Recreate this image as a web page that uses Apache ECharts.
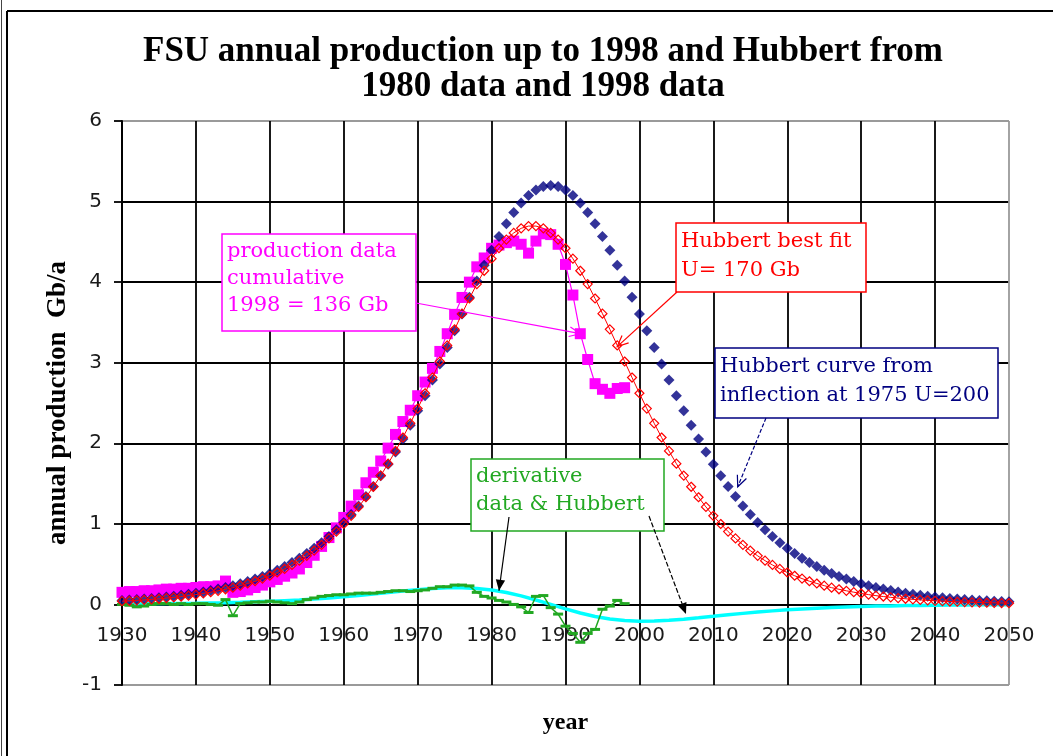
<!DOCTYPE html>
<html>
<head>
<meta charset="utf-8">
<title>FSU annual production and Hubbert curves</title>
<script src="https://cdn.jsdelivr.net/npm/echarts@6/dist/echarts.min.js"></script>
<style>
  html, body { margin: 0; padding: 0; background: #fff; }
  #chart { width: 1053px; height: 756px; }
</style>
</head>
<body>
<div id="chart"></div>
<script>
// ---- data (Gb per year) ----
const PROD_FIRST_YEAR = 1930;   // production data and its derivative: 1930..1998, yearly
const CURVE_FIRST_YEAR = 1930;  // Hubbert curves: 1930..2050, yearly
const DERIV_CURVE_FIRST_YEAR = 1930; // derivative of the Hubbert curve: every 2 years
const DERIV_CURVE_STEP = 2;

const production = [
  0.15, 0.16, 0.16, 0.17, 0.17, 0.18, 0.19, 0.19, 0.20, 0.20,
  0.21, 0.22, 0.22, 0.23, 0.29, 0.15, 0.16, 0.18, 0.21, 0.24,
  0.28, 0.31, 0.35, 0.39, 0.44, 0.52, 0.61, 0.72, 0.83, 0.95,
  1.08, 1.22, 1.36, 1.51, 1.64, 1.78, 1.94, 2.11, 2.27, 2.41,
  2.59, 2.76, 2.93, 3.14, 3.36, 3.60, 3.81, 4.00, 4.19, 4.30,
  4.42, 4.46, 4.49, 4.51, 4.47, 4.36, 4.51, 4.60, 4.59, 4.47,
  4.22, 3.84, 3.36, 3.04, 2.74, 2.67, 2.62, 2.68, 2.69
];

const productionDerivative = [
  0.00, -0.01, -0.03, -0.02, 0.00, 0.01, 0.01, 0.00, 0.01, 0.00,
  0.01, 0.01, 0.00, -0.01, 0.06, -0.14, 0.01, 0.02, 0.03, 0.03,
  0.04, 0.03, 0.02, 0.01, 0.03, 0.06, 0.08, 0.10, 0.11, 0.12,
  0.12, 0.13, 0.14, 0.14, 0.14, 0.15, 0.16, 0.17, 0.17, 0.16,
  0.17, 0.18, 0.20, 0.22, 0.22, 0.24, 0.24, 0.23, 0.15, 0.10,
  0.08, 0.05, 0.03, 0.00, -0.03, -0.10, 0.10, 0.11, -0.04, -0.12,
  -0.27, -0.36, -0.47, -0.36, -0.31, -0.06, -0.02, 0.05, 0.01
];

// Hubbert curve from the 1975 inflection, U = 200 Gb
const hubbert200 = [
  0.050, 0.055, 0.061, 0.068, 0.075, 0.084, 0.093, 0.103, 0.114, 0.126,
  0.140, 0.155, 0.172, 0.190, 0.210, 0.232, 0.258, 0.285, 0.315, 0.348,
  0.384, 0.425, 0.470, 0.519, 0.572, 0.631, 0.696, 0.766, 0.843, 0.926,
  1.018, 1.116, 1.223, 1.339, 1.463, 1.596, 1.740, 1.892, 2.053, 2.224,
  2.403, 2.591, 2.785, 2.985, 3.189, 3.397, 3.605, 3.811, 4.013, 4.209,
  4.395, 4.568, 4.725, 4.864, 4.981, 5.075, 5.144, 5.186, 5.200, 5.186,
  5.144, 5.075, 4.981, 4.864, 4.725, 4.568, 4.395, 4.209, 4.013, 3.811,
  3.605, 3.397, 3.189, 2.985, 2.785, 2.591, 2.403, 2.224, 2.053, 1.892,
  1.740, 1.596, 1.463, 1.339, 1.223, 1.116, 1.018, 0.926, 0.843, 0.766,
  0.696, 0.631, 0.572, 0.519, 0.470, 0.425, 0.384, 0.348, 0.315, 0.285,
  0.258, 0.232, 0.210, 0.190, 0.172, 0.155, 0.140, 0.126, 0.114, 0.103,
  0.093, 0.084, 0.075, 0.068, 0.061, 0.055, 0.050, 0.045, 0.041, 0.037,
  0.033
];

// Hubbert best fit, U = 170 Gb
const hubbert170 = [
  0.041, 0.045, 0.051, 0.056, 0.063, 0.070, 0.079, 0.088, 0.098, 0.109,
  0.122, 0.136, 0.152, 0.169, 0.188, 0.208, 0.233, 0.260, 0.288, 0.321,
  0.356, 0.396, 0.441, 0.490, 0.543, 0.603, 0.668, 0.740, 0.819, 0.904,
  0.998, 1.100, 1.210, 1.330, 1.460, 1.599, 1.747, 1.905, 2.072, 2.248,
  2.431, 2.621, 2.816, 3.015, 3.215, 3.414, 3.609, 3.797, 3.976, 4.141,
  4.291, 4.421, 4.528, 4.611, 4.668, 4.696, 4.696, 4.668, 4.611, 4.528,
  4.421, 4.291, 4.141, 3.976, 3.797, 3.609, 3.414, 3.215, 3.015, 2.816,
  2.621, 2.431, 2.248, 2.072, 1.905, 1.747, 1.599, 1.460, 1.330, 1.210,
  1.100, 0.998, 0.904, 0.819, 0.740, 0.668, 0.603, 0.543, 0.490, 0.441,
  0.396, 0.356, 0.321, 0.288, 0.260, 0.233, 0.208, 0.188, 0.169, 0.152,
  0.136, 0.122, 0.109, 0.098, 0.088, 0.079, 0.070, 0.063, 0.056, 0.051,
  0.045, 0.041, 0.036, 0.033, 0.029, 0.026, 0.023, 0.021, 0.019, 0.017,
  0.015
];

// derivative of the U = 200 Hubbert curve
const hubbertDerivative = [
  0.005, 0.006, 0.008, 0.010, 0.012, 0.014, 0.018, 0.021, 0.026, 0.032,
  0.038, 0.047, 0.056, 0.067, 0.080, 0.095, 0.111, 0.129, 0.148, 0.166,
  0.183, 0.197, 0.206, 0.208, 0.199, 0.180, 0.149, 0.106, 0.055, 0.000,
  -0.055, -0.106, -0.149, -0.180, -0.199, -0.208, -0.206, -0.197, -0.183, -0.166,
  -0.148, -0.129, -0.111, -0.095, -0.080, -0.067, -0.056, -0.047, -0.038, -0.032,
  -0.026, -0.021, -0.018, -0.014, -0.012, -0.010, -0.008, -0.006, -0.005, -0.004,
  -0.003
];

// axis ticks
const xTicks = { min: 1930, max: 2050, step: 10 };
const yTicks = { min: -1, max: 6, step: 1 };

// ---- helpers ----
function pairs(firstYear, step, values) {
  return values.map((v, i) => [firstYear + i * step, v]);
}
// one colour per grid line: inner lines in one colour, the two outer lines in others
function lineColors(count, inner, edgeMin, edgeMax) {
  const c = [];
  for (let i = 0; i < count; i++) c.push(inner);
  c[0] = edgeMin;
  c[count - 1] = edgeMax;
  return c;
}

const GRID_BLACK = '#000';
const GRID_GREY = '#9a9a9a';
const nX = (xTicks.max - xTicks.min) / xTicks.step + 1;
const nY = (yTicks.max - yTicks.min) / yTicks.step + 1;

const chart = echarts.init(document.getElementById('chart'), null, { renderer: 'canvas' });

const option = {
  backgroundColor: '#fff',
  animation: false,
  title: {
    text: 'FSU annual production up to 1998 and Hubbert from\n1980 data and 1998 data',
    left: 538,
    top: 29,
    textAlign: 'center',
    textStyle: {
      fontFamily: '"Liberation Serif", "Times New Roman", serif',
      fontWeight: 'bold',
      fontSize: 35,
      lineHeight: 35,
      color: '#000'
    }
  },
  grid: { left: 122, right: 44, top: 121, bottom: 71, outerBoundsMode: 'none' },
  xAxis: {
    type: 'value',
    min: xTicks.min,
    max: xTicks.max,
    interval: xTicks.step,
    name: 'year',
    nameLocation: 'middle',
    nameGap: 26,
    nameTextStyle: {
      fontFamily: '"Liberation Serif", "Times New Roman", serif',
      fontWeight: 'bold',
      fontSize: 24,
      color: '#000'
    },
    axisLine: { show: false, onZero: false },
    axisTick: { show: false },
    axisLabel: {
      margin: -59,
      fontFamily: '"DejaVu Sans", sans-serif',
      fontSize: 20,
      color: '#1a1a1a',
      formatter: v => String(v)
    },
    splitLine: {
      show: true,
      lineStyle: { color: lineColors(nX, GRID_BLACK, GRID_BLACK, GRID_GREY), width: 1.8 }
    }
  },
  yAxis: {
    type: 'value',
    min: yTicks.min,
    max: yTicks.max,
    interval: yTicks.step,
    name: 'annual production  Gb/a',
    nameLocation: 'middle',
    nameGap: 44,
    nameTextStyle: {
      fontFamily: '"Liberation Serif", "Times New Roman", serif',
      fontWeight: 'bold',
      fontSize: 27,
      color: '#000'
    },
    axisLine: { show: true, onZero: false, lineStyle: { color: '#000', width: 2 } },
    axisTick: { show: true, inside: false, length: 8, lineStyle: { color: '#000', width: 1.8 } },
    axisLabel: {
      margin: 20,
      fontFamily: '"DejaVu Sans", sans-serif',
      fontSize: 20,
      color: '#1a1a1a'
    },
    splitLine: {
      show: true,
      lineStyle: { color: lineColors(nY, GRID_BLACK, GRID_GREY, GRID_GREY), width: 1.8 }
    }
  },
  series: [
    {
      name: 'derivative Hubbert',
      type: 'line',
      data: pairs(DERIV_CURVE_FIRST_YEAR, DERIV_CURVE_STEP, hubbertDerivative),
      showSymbol: false,
      symbol: 'none',
      lineStyle: { color: '#00ffff', width: 3.5 },
      itemStyle: { color: '#00ffff' },
      z: 2
    },
    {
      name: 'derivative data',
      type: 'line',
      data: pairs(PROD_FIRST_YEAR, 1, productionDerivative),
      symbol: 'rect',
      symbolSize: [10, 3],
      lineStyle: { color: '#22a822', width: 1.5 },
      itemStyle: { color: '#22a822' },
      z: 3
    },
    {
      name: 'production data',
      type: 'line',
      data: pairs(PROD_FIRST_YEAR, 1, production),
      symbol: 'rect',
      symbolSize: 11,
      lineStyle: { color: '#ff00ff', width: 1.2 },
      itemStyle: { color: '#ff00ff' },
      z: 4
    },
    {
      name: 'Hubbert U=200',
      type: 'scatter',
      data: pairs(CURVE_FIRST_YEAR, 1, hubbert200),
      symbol: 'diamond',
      symbolSize: 11,
      itemStyle: { color: '#000080' },
      z: 5
    },
    {
      name: 'Hubbert U=170',
      type: 'line',
      data: pairs(CURVE_FIRST_YEAR, 1, hubbert170),
      symbol: 'diamond',
      symbolSize: 9,
      lineStyle: { color: '#ff0000', width: 1 },
      itemStyle: { color: 'rgba(255,255,255,0)', borderColor: '#ff0000', borderWidth: 1.2 },
      z: 6
    }
  ]
};

chart.setOption(option);

// ---- annotation boxes and arrows ----
const SERIF = '"DejaVu Serif", "Liberation Serif", serif';

function px(x, y) {
  const p = chart.convertToPixel({ gridIndex: 0 }, [x, y]);
  return { x: p[0], y: p[1] };
}
function arrow(from, tip, color, opts) {
  const o = Object.assign({ len: 11, half: 0.42, filled: false, dash: null, width: 1.2 }, opts || {});
  const a = Math.atan2(tip.y - from.y, tip.x - from.x);
  const p1 = [tip.x - o.len * Math.cos(a - o.half), tip.y - o.len * Math.sin(a - o.half)];
  const p2 = [tip.x - o.len * Math.cos(a + o.half), tip.y - o.len * Math.sin(a + o.half)];
  const els = [{
    type: 'line',
    shape: { x1: from.x, y1: from.y, x2: tip.x, y2: tip.y },
    style: { stroke: color, lineWidth: o.width, lineDash: o.dash },
    z: 130
  }];
  if (o.filled) {
    els.push({ type: 'polygon', shape: { points: [p1, [tip.x, tip.y], p2] }, style: { fill: color }, z: 131 });
  } else {
    els.push({ type: 'polyline', shape: { points: [p1, [tip.x, tip.y], p2] }, style: { stroke: color, lineWidth: o.width, fill: null }, z: 131 });
  }
  return els;
}
function box(x, y, w, h, color, text, lineHeight) {
  return [
    {
      type: 'rect',
      shape: { x: x, y: y, width: w, height: h },
      style: { fill: '#fff', stroke: color, lineWidth: 1.5 },
      z: 110
    },
    {
      type: 'text',
      x: x + 5,
      y: y + 4,
      style: {
        text: text,
        fill: color,
        font: '21px ' + SERIF,
        lineHeight: lineHeight,
        verticalAlign: 'top',
        align: 'left'
      },
      z: 111
    }
  ];
}

const graphics = [];
// outer frame
graphics.push({ type: 'line', shape: { x1: 7, y1: 11, x2: 1053, y2: 11 }, style: { stroke: '#000', lineWidth: 2 }, z: 120 });
graphics.push({ type: 'line', shape: { x1: 7, y1: 11, x2: 7, y2: 756 }, style: { stroke: '#000', lineWidth: 2 }, z: 120 });
graphics.push({ type: 'line', shape: { x1: 1.5, y1: 0, x2: 1.5, y2: 756 }, style: { stroke: '#444', lineWidth: 1 }, z: 120 });

// production data box
graphics.push(...box(222, 234, 194, 97, '#ff00ff', 'production data\ncumulative\n1998 = 136 Gb', 27));
graphics.push(...arrow({ x: 416, y: 303 }, px(1992, 3.36), '#ff00ff', { len: 12 }));

// best fit box
graphics.push(...box(676, 223, 190, 69, '#ff0000', 'Hubbert best fit\nU= 170 Gb', 29));
graphics.push(...arrow({ x: 677, y: 292 }, px(1997, 3.2), '#ff0000', { len: 12 }));

// U=200 curve box
graphics.push(...box(715, 348, 283, 70, '#000080', 'Hubbert curve from\ninflection at 1975 U=200', 29));
graphics.push(...arrow({ x: 766, y: 418 }, px(2013.3, 1.46), '#000080', { len: 12, dash: [4, 2] }));

// derivative box
graphics.push(...box(471, 459, 193, 72, '#22a822', 'derivative\ndata & Hubbert', 28));
graphics.push(...arrow({ x: 509, y: 517 }, px(1981, 0.17), '#000', { len: 12, half: 0.4, filled: true }));
graphics.push(...arrow({ x: 649, y: 516 }, px(2006.3, -0.12), '#000', { len: 12, half: 0.4, filled: true, dash: [5, 2] }));

chart.setOption({ graphic: graphics });
</script>
</body>
</html>
